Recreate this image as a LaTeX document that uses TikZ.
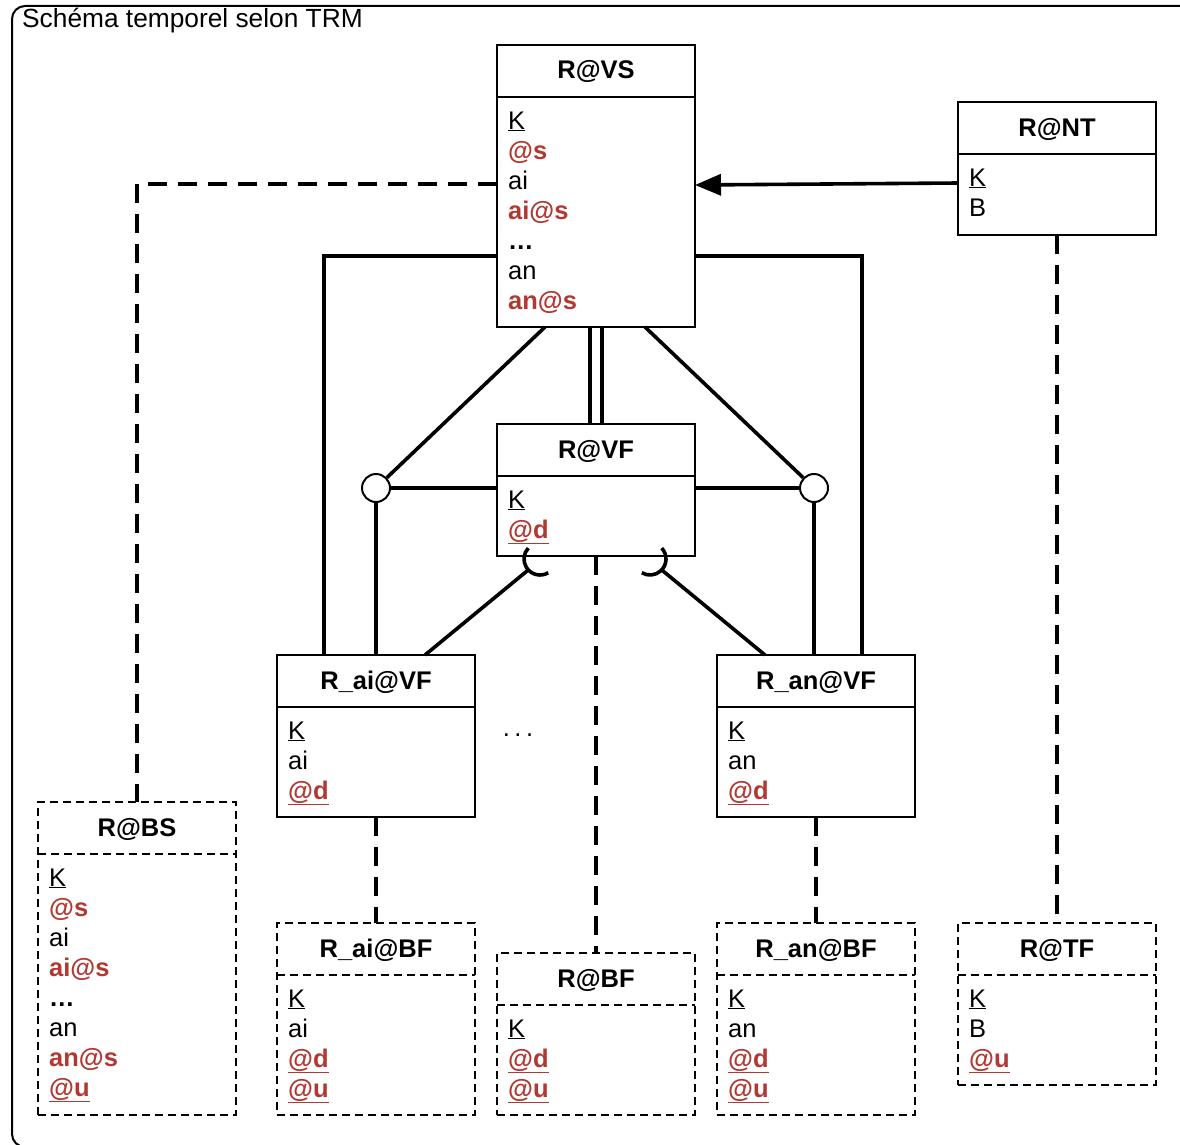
\documentclass[tikz,border=0pt]{standalone}
\usepackage{fontspec}
\setmainfont{Liberation Sans}
\usetikzlibrary{arrows.meta,calc}
\definecolor{attrred}{RGB}{178,56,50}
\newcommand{\redattr}[1]{\textcolor{attrred}{\textbf{#1}}}
\newcommand{\redkey}[1]{\textcolor{attrred}{\underline{\textbf{#1}}}}
\newcommand{\entbox}[6]{%
  \node[#2, minimum height=#5pt] (#1) at (#3,#4) {};
  \draw[#2] (#3,#4+52) -- (#3+198,#4+52);
  \node[titletext] (#1-title) at (#3+99,#4+34) {#6};
}
\begin{document}
\begin{tikzpicture}[x=1pt,y=-1pt,
  solidbox/.style={draw=black, line width=2pt, minimum width=198pt, anchor=north west, inner sep=0pt, outer sep=0pt},
  dashbox/.style={solidbox, dash pattern=on 8pt off 5pt},
  titletext/.style={anchor=base, inner sep=0pt, font=\fontsize{25.5}{30}\selectfont\bfseries},
  attrtext/.style={anchor=base west, align=left, inner sep=0pt, font=\fontsize{25.5}{30}\selectfont},
  conn/.style={line width=3.6pt, line cap=butt},
  dconn/.style={conn, dash pattern=on 19pt off 11pt},
  junction/.style={circle, draw, line width=2pt, minimum size=28pt, inner sep=0pt, fill=white}
]
\useasboundingbox (0,0) rectangle (1180,1145);
% frame
\draw[line width=2pt, rounded corners=13pt] (1220,6) -- (12,6) -- (12,1147) -- (1220,1147);
\node[anchor=base west, inner sep=0pt, font=\fontsize{26.3}{30}\selectfont] (frametitle) at (22,28) {Schéma temporel selon TRM};

% boxes (attribute nodes are anchored at the baseline of their last line)
\entbox{vs}{solidbox}{497}{45}{282}{R@VS}
\node[attrtext] (vs-attr) at (508,309) {\underline{K}\\\redattr{@s}\\ai\\\redattr{ai@s}\\\textbf{…}\\an\\\redattr{an@s}};
\entbox{nt}{solidbox}{958}{102}{133}{R@NT}
\node[attrtext] (nt-attr) at (969,216) {\underline{K}\\B};
\entbox{vf}{solidbox}{497}{424}{132}{R@VF}
\node[attrtext] (vf-attr) at (508,538) {\underline{K}\\\redkey{@d}};
\entbox{aivf}{solidbox}{277}{655}{162}{R\_ai@VF}
\node[attrtext] (aivf-attr) at (288,799) {\underline{K}\\ai\\\redkey{@d}};
\entbox{anvf}{solidbox}{717}{655}{162}{R\_an@VF}
\node[attrtext] (anvf-attr) at (728,799) {\underline{K}\\an\\\redkey{@d}};
\entbox{bs}{dashbox}{38}{802}{313}{R@BS}
\node[attrtext] (bs-attr) at (49,1096) {\underline{K}\\\redattr{@s}\\ai\\\redattr{ai@s}\\\textbf{…}\\an\\\redattr{an@s}\\\redkey{@u}};
\entbox{aibf}{dashbox}{277}{923}{192}{R\_ai@BF}
\node[attrtext] (aibf-attr) at (288,1097) {\underline{K}\\ai\\\redkey{@d}\\\redkey{@u}};
\entbox{bf}{dashbox}{497}{953}{162}{R@BF}
\node[attrtext] (bf-attr) at (508,1097) {\underline{K}\\\redkey{@d}\\\redkey{@u}};
\entbox{anbf}{dashbox}{717}{923}{192}{R\_an@BF}
\node[attrtext] (anbf-attr) at (728,1097) {\underline{K}\\an\\\redkey{@d}\\\redkey{@u}};
\entbox{tf}{dashbox}{958}{923}{162}{R@TF}
\node[attrtext] (tf-attr) at (969,1067) {\underline{K}\\B\\\redkey{@u}};

\node[inner sep=0pt, font=\fontsize{25.5}{30}\selectfont] (dots) at (518,735) {.\hspace{4.5pt}.\hspace{4.5pt}.};

% junctions
\node[junction] (jl) at (376,488) {};
\node[junction] (jr) at (814,488) {};
\coordinate (al) at ($(vf.south west)+(43,3)$);
\coordinate (ar) at ($(vf.south east)+(-45,3)$);

% connectors
\draw[conn, -{Triangle[length=26pt,width=21pt]}] ($(nt.north west)+(0,81)$) -- ($(vs.north east)+(0,140)$);
\draw[dconn] ($(vs.north west)+(0,139)$) -| (bs.north);
\draw[conn] ($(vs.north west)+(0,211)$) -| ($(aivf.north west)+(47,0)$);
\draw[conn] ($(vs.north east)+(0,211)$) -| ($(anvf.north east)+(-53,0)$);
\draw[conn] ($(vs.south west)+(48,0)$) -- (jl);
\draw[conn] (jl) -- (jl -| vf.west);
\draw[conn] (jl) -- (jl |- aivf.north);
\draw[conn] ($(vs.south east)+(-50,0)$) -- (jr);
\draw[conn] (jr) -- (jr -| vf.east);
\draw[conn] (jr) -- (jr |- anvf.north);
\draw[conn] ($(vs.south)+(-6,0)$) -- ($(vf.north)+(-6,0)$);
\draw[conn] ($(vs.south)+(6,0)$) -- ($(vf.north)+(6,0)$);
\draw[conn] ($(al)+(59:16)$) arc[start angle=59, end angle=223, radius=16];
\draw[conn] ($(ar)+(-43:16)$) arc[start angle=-43, end angle=121, radius=16];
\draw[conn] ($(aivf.north west)+(148,0)$) -- ($(al)+(137:16)$);
\draw[conn] ($(anvf.north west)+(48,0)$) -- ($(ar)+(43:16)$);
\draw[dconn] (vf.south) -- (bf.north);
\draw[dconn] (aivf.south) -- (aibf.north);
\draw[dconn] (anvf.south) -- (anbf.north);
\draw[dconn] (nt.south) -- (tf.north);
\end{tikzpicture}
\end{document}
